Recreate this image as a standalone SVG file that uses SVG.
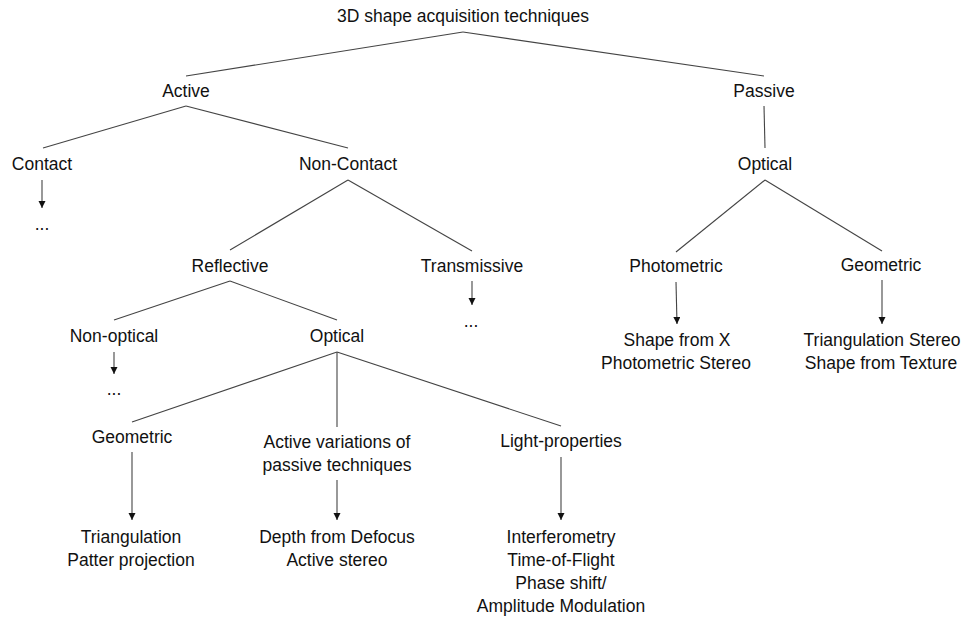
<svg xmlns="http://www.w3.org/2000/svg" width="964" height="617" viewBox="0 0 964 617">
<style>
text{font-family:"Liberation Sans",Arial,sans-serif;font-size:17.5px;fill:#111;text-anchor:middle}
.c line{stroke:#444;stroke-width:1.1;fill:none}
.a{marker-end:url(#ah)}
</style>
<defs>
<marker id="ah" markerUnits="userSpaceOnUse" markerWidth="8" markerHeight="8" refX="7" refY="3.5" orient="auto">
<path d="M0,0 L7,3.5 L0,7 Z" fill="#111"/>
</marker>
</defs>
<rect width="964" height="617" fill="#fff"/>
<g class="c" id="connectors">
<line x1="463" y1="32" x2="186" y2="76"/>
<line x1="463" y1="32" x2="764" y2="76"/>
<line x1="186" y1="106" x2="43" y2="148"/>
<line x1="186" y1="106" x2="348" y2="148"/>
<line class="a" x1="42" y1="180" x2="42" y2="208"/>
<line x1="348" y1="180" x2="230" y2="250"/>
<line x1="348" y1="180" x2="472" y2="251"/>
<line class="a" x1="472" y1="281" x2="472" y2="305"/>
<line x1="230" y1="281" x2="114" y2="320"/>
<line x1="230" y1="281" x2="337" y2="320"/>
<line class="a" x1="114" y1="352" x2="114" y2="374"/>
<line x1="337" y1="352" x2="132" y2="422"/>
<line x1="337" y1="352" x2="337" y2="427"/>
<line x1="337" y1="352" x2="561" y2="426"/>
<line class="a" x1="132" y1="452" x2="132" y2="520"/>
<line class="a" x1="337" y1="480" x2="337" y2="520"/>
<line class="a" x1="561" y1="457" x2="561" y2="520"/>
<line x1="764" y1="106" x2="765" y2="148"/>
<line x1="765" y1="180" x2="676" y2="252"/>
<line x1="765" y1="180" x2="882" y2="251"/>
<line class="a" x1="676" y1="282" x2="677" y2="324"/>
<line class="a" x1="882" y1="280" x2="882" y2="324"/>
</g>
<g id="root"><text x="463" y="22">3D shape acquisition techniques</text></g>
<g id="active"><text x="186" y="97">Active</text></g>
<g id="passive"><text x="764" y="97">Passive</text></g>
<g id="contact"><text x="42" y="170">Contact</text></g>
<g id="contact-more"><text x="42" y="230">...</text></g>
<g id="noncontact"><text x="348" y="170">Non-Contact</text></g>
<g id="reflective"><text x="230" y="272">Reflective</text></g>
<g id="transmissive"><text x="472" y="272">Transmissive</text></g>
<g id="transmissive-more"><text x="471" y="327">...</text></g>
<g id="nonoptical"><text x="114" y="342">Non-optical</text></g>
<g id="nonoptical-more"><text x="114" y="395">...</text></g>
<g id="optical-active"><text x="337" y="342">Optical</text></g>
<g id="geometric-active"><text x="132" y="443">Geometric</text></g>
<g id="active-variations"><text x="337" y="448">Active variations of</text><text x="337" y="471">passive techniques</text></g>
<g id="light-properties"><text x="561" y="447">Light-properties</text></g>
<g id="geometric-active-methods"><text x="131" y="543">Triangulation</text><text x="131" y="566">Patter projection</text></g>
<g id="active-variations-methods"><text x="337" y="543">Depth from Defocus</text><text x="337" y="566">Active stereo</text></g>
<g id="light-properties-methods"><text x="561" y="543">Interferometry</text><text x="561" y="566">Time-of-Flight</text><text x="561" y="589">Phase shift/</text><text x="561" y="612">Amplitude Modulation</text></g>
<g id="optical-passive"><text x="765" y="170">Optical</text></g>
<g id="photometric"><text x="676" y="272">Photometric</text></g>
<g id="geometric-passive"><text x="881" y="271">Geometric</text></g>
<g id="photometric-methods"><text x="677" y="346">Shape from X</text><text x="676" y="369">Photometric Stereo</text></g>
<g id="geometric-passive-methods"><text x="882" y="346">Triangulation Stereo</text><text x="881" y="369">Shape from Texture</text></g>
</svg>
